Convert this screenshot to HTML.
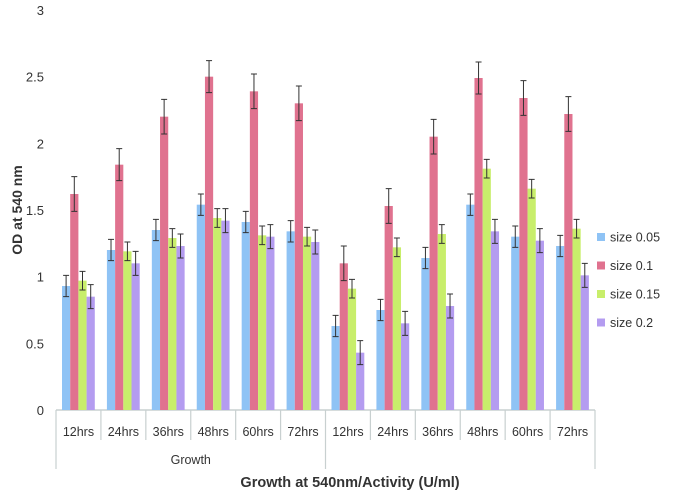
<!DOCTYPE html>
<html><head><meta charset="utf-8"><style>
body{margin:0;background:#fff;}
svg text{font-family:"Liberation Sans",sans-serif;}
</style></head><body>
<svg id="chart" width="685" height="492">
<g id="g"></g>
</svg>
<script>
const categories=["12hrs","24hrs","36hrs","48hrs","60hrs","72hrs","12hrs","24hrs","36hrs","48hrs","60hrs","72hrs"];
const seriesNames=["size 0.05","size 0.1","size 0.15","size 0.2"];
const size005=[0.93,1.20,1.35,1.54,1.41,1.34,0.63,0.75,1.14,1.54,1.30,1.23];
const size01=[1.62,1.84,2.20,2.50,2.39,2.30,1.10,1.53,2.05,2.49,2.34,2.22];
const size015=[0.97,1.19,1.29,1.44,1.31,1.30,0.91,1.22,1.32,1.81,1.66,1.36];
const size02=[0.85,1.10,1.23,1.42,1.30,1.26,0.43,0.65,0.78,1.34,1.27,1.01];
const err005=[0.08,0.08,0.08,0.08,0.08,0.08,0.08,0.08,0.08,0.08,0.08,0.08];
const err01=[0.13,0.12,0.13,0.12,0.13,0.13,0.13,0.13,0.13,0.12,0.13,0.13];
const err015=[0.07,0.07,0.07,0.07,0.07,0.07,0.07,0.07,0.07,0.07,0.07,0.07];
const err02=[0.09,0.09,0.09,0.09,0.09,0.09,0.09,0.09,0.09,0.09,0.09,0.09];
const yTicks=[0,0.5,1,1.5,2,2.5,3];
const yTickLabels=["0","0.5","1","1.5","2","2.5","3"];
const groupLabels=["Growth",""];

const colors=["#8fc3f5","#e0728f","#c8ee6b","#b49cf0"];
const series=[size005,size01,size015,size02];
const errs=[err005,err01,err015,err02];
const NS="http://www.w3.org/2000/svg";
const g=document.getElementById("g");
const x0=56,x1=595,yTop=10,yBot=410,yMax=3;
const gw=(x1-x0)/categories.length;
const y=v=>yBot-(v/yMax)*(yBot-yTop);
const xg=i=>x0+i*gw;
function mk(t,a){const e=document.createElementNS(NS,t);for(const k in a)e.setAttribute(k,a[k]);g.appendChild(e);return e;}

yTicks.forEach((t,i)=>{
 const e=mk("text",{x:44,y:y(t)+5,"text-anchor":"end","font-size":"13",fill:"#333"});
 e.textContent=yTickLabels[i];
 
 
});
const ax=mk("line",{x1:x0,y1:yBot,x2:x1,y2:yBot,stroke:"#c8d0d0","stroke-width":1.5});


for(let i=0;i<=categories.length;i++){
 const big=(i%6===0);
 const l=mk("line",{x1:xg(i),y1:yBot,x2:xg(i),y2:big?469:440,stroke:"#c8d0d0","stroke-width":1.2});
 
 
}
categories.forEach((c,i)=>{
 const e=mk("text",{x:xg(i)+gw/2,y:436,"text-anchor":"middle","font-size":"12.5",fill:"#333"});
 e.textContent=c;
 
 
});
groupLabels.forEach((c,i)=>{
 if(!c)return;
 const e=mk("text",{x:xg(i*6)+gw*3,y:464,"text-anchor":"middle","font-size":"12.5",fill:"#333"});
 e.textContent=c;
 
 
});
const bw=8.2,off=6;
series.forEach((s,si)=>{
 s.forEach((v,i)=>{
  const bx=xg(i)+off+si*bw;
  const r=mk("rect",{x:bx,y:y(v),width:bw,height:yBot-y(v),fill:colors[si]});
  
  
  const cx=bx+bw/2,e=errs[si][i];
  const eb=mk("path",{d:`M${cx} ${y(v+e)}V${y(v-e)}M${cx-3} ${y(v+e)}H${cx+3}M${cx-3} ${y(v-e)}H${cx+3}`,stroke:"#333","stroke-width":1,fill:"none"});
  
  
 });
});
seriesNames.forEach((n,i)=>{
 const yy=237+i*28.5;
 const r=mk("rect",{x:597,y:yy-4,width:8,height:8,fill:colors[i]});
 
 
 const t=mk("text",{x:610,y:yy+4.5,"font-size":"12.5",fill:"#333"});
 t.textContent=n;
 
 
});
const yt=mk("text",{x:0,y:0,transform:"translate(22,210) rotate(-90)","text-anchor":"middle","font-size":"14","font-weight":"bold",fill:"#333"});
yt.textContent="OD at 540 nm";


const xt=mk("text",{x:350,y:487,"text-anchor":"middle","font-size":"14.5","font-weight":"bold",fill:"#333"});
xt.textContent="Growth at 540nm/Activity (U/ml)";


</script>
</body></html>
